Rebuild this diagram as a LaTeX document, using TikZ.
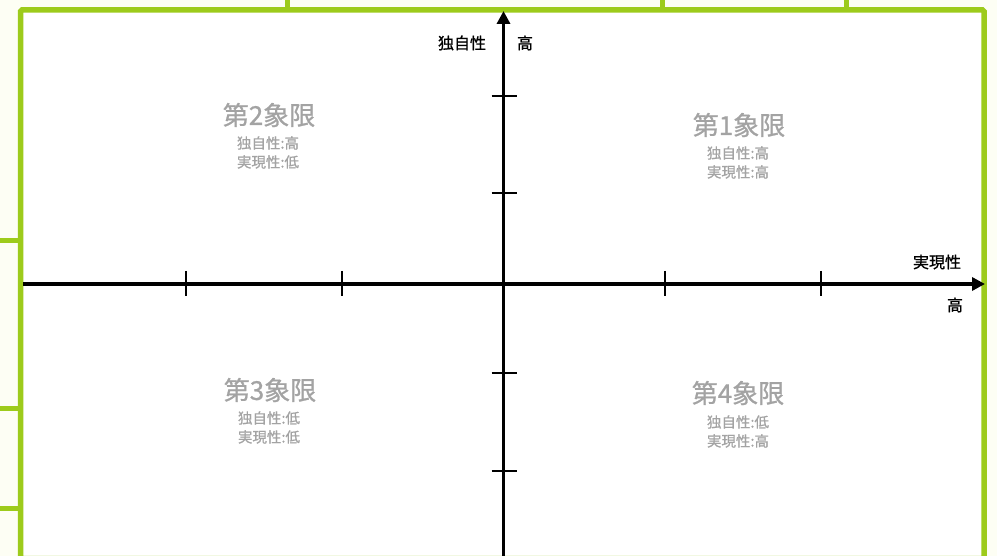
\documentclass[tikz,border=0pt]{standalone}
\usepackage{fontspec}
\setmainfont{Noto Sans CJK JP}
\newfontfamily\medfont{Noto Sans CJK JP}[FakeBold=0.9]
\usetikzlibrary{arrows.meta}
\definecolor{bggreen}{HTML}{FDFEF4}
\definecolor{frame}{HTML}{9DCB1B}
\definecolor{qgray}{HTML}{A3A3A3}
\tikzset{
  framebar/.style={draw=frame,line width=5pt},
  axisline/.style={draw=black,line width=3.8pt,-{Triangle[length=13pt,width=13pt]}},
  tickmark/.style={draw=black,line width=2.8pt},
  axislabel/.style={font=\medfont\fontsize{16}{18}\selectfont,text=black,inner sep=0pt},
  qtitle/.style={font=\medfont\fontsize{26}{28}\selectfont,text=qgray,inner sep=0pt},
  qsub/.style={font=\medfont\fontsize{14.5}{16}\selectfont,text=qgray,inner sep=0pt},
}
\begin{document}
\begin{tikzpicture}[x=1pt,y=-1pt]
\useasboundingbox (0,0) rectangle (997,556);
\fill[bggreen] (0,0) rectangle (997,556);
% outer connectors
\coordinate (t1a) at (287,-2); \coordinate (t1b) at (287,10);
\coordinate (t2a) at (662.5,-2); \coordinate (t2b) at (662.5,10);
\coordinate (t3a) at (846.5,-2); \coordinate (t3b) at (846.5,10);
\coordinate (l1a) at (-2,241); \coordinate (l1b) at (20,241);
\coordinate (l2a) at (-2,408); \coordinate (l2b) at (20,408);
\coordinate (l3a) at (-2,508); \coordinate (l3b) at (20,508);
\draw[framebar] (t1a) -- (t1b);
\draw[framebar] (t2a) -- (t2b);
\draw[framebar] (t3a) -- (t3b);
\draw[framebar] (l1a) -- (l1b);
\draw[framebar] (l2a) -- (l2b);
\draw[framebar] (l3a) -- (l3b);
% frame
\fill[white] (20.5,10) rectangle (984,558);
\draw[frame,line width=5.5pt,rounded corners=1.5pt] (20.5,10) rectangle (984,558.5);
% axes
\coordinate (xs) at (23,284);
\coordinate (xe) at (985,284);
\coordinate (ys) at (503.5,560);
\coordinate (ye) at (503.5,11);
\draw[axisline] (xs) -- (xe);
\draw[axisline] (ys) -- (ye);
% ticks
\foreach \x/\n in {186/a,342/b,665/c,821/d}{
  \coordinate (xt\n1) at (\x,271); \coordinate (xt\n2) at (\x,296);
  \draw[tickmark] (xt\n1) -- (xt\n2);
}
\foreach \y/\n in {96/a,193/b,373/c,471/d}{
  \coordinate (yt\n1) at (491.5,\y); \coordinate (yt\n2) at (516.5,\y);
  \draw[tickmark] (yt\n1) -- (yt\n2);
}
% axis labels
\node[axislabel] (ylab) at (462,43) {独自性};
\node[axislabel] (yhigh) at (525,43) {高};
\node[axislabel] (xlab) at (937,262) {実現性};
\node[axislabel] (xhigh) at (955,305) {高};
% quadrants
\node[qtitle] (q2) at (269,115) {第2象限};
\node[qsub] (q2a) at (268,143) {独自性:高};
\node[qsub] (q2b) at (268,162) {実現性:低};
\node[qtitle] (q1) at (739,125) {第1象限};
\node[qsub] (q1a) at (738,153) {独自性:高};
\node[qsub] (q1b) at (738,172) {実現性:高};
\node[qtitle] (q3) at (270,390) {第3象限};
\node[qsub] (q3a) at (269,418) {独自性:低};
\node[qsub] (q3b) at (269,437) {実現性:低};
\node[qtitle] (q4) at (738,393) {第4象限};
\node[qsub] (q4a) at (738,422) {独自性:低};
\node[qsub] (q4b) at (738,441) {実現性:高};
\end{tikzpicture}
\end{document}
